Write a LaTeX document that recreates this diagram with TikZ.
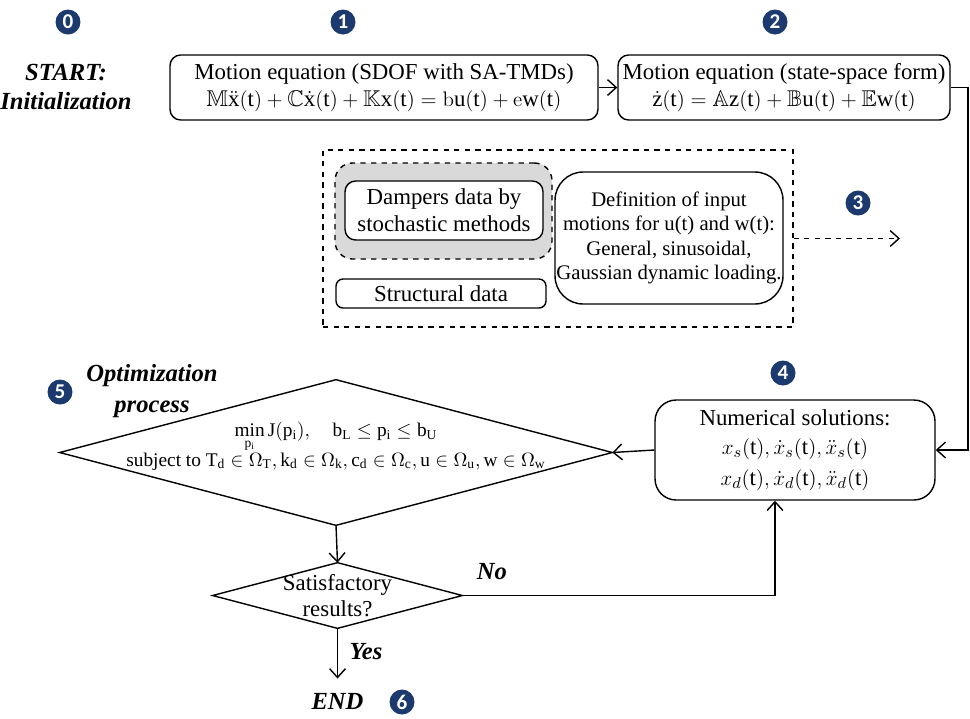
\documentclass[tikz,border=0pt]{standalone}
\usepackage{amsmath,amssymb}
\usepackage{fontspec}
\setmainfont{Liberation Serif}
\newfontfamily\badgefont{Carlito}
\DeclareMathAlphabet{\mathbbl}{U}{bbold}{m}{n}
\usetikzlibrary{shapes.geometric,arrows.meta,calc}
\definecolor{badgeblue}{RGB}{28,58,110}
\definecolor{lightgray}{RGB}{217,217,217}
\tikzset{
  box/.style={draw, line width=0.8pt, rounded corners=6pt, align=center, inner sep=0pt,
    font=\rmfamily\fontsize{13}{15.5}\selectfont},
  badge/.style={circle, fill=badgeblue, text=white, minimum size=0.5cm, inner sep=0pt,
    font=\badgefont\bfseries\fontsize{12}{12}\selectfont},
  decision/.style={inner sep=0pt, align=center, font=\rmfamily\fontsize{12}{15}\selectfont},
  flow/.style={draw, line width=0.8pt, -{Straight Barb[length=5pt,width=9pt]}},
  lbl/.style={font=\rmfamily\fontsize{14}{16}\selectfont\bfseries\itshape, align=center, inner sep=0pt}
}
\begin{document}
\begin{tikzpicture}[x=0.02cm,y=-0.02cm]
\useasboundingbox (0,0) rectangle (970,718);

% badges
\node[badge] (n0) at (68,22) {0};
\node[badge] (n1) at (343,22) {1};
\node[badge] (n2) at (775,22) {2};
\node[badge] (n3) at (858,203) {3};
\node[badge] (n4) at (783,373) {4};
\node[badge] (n5) at (60,392) {5};
\node[badge] (n6) at (402,702) {6};

% start
\node[lbl] (start) at (66,87) {START:\\[1pt]Initialization};

% box 1 and 2
\node[box, minimum width=8.56cm, minimum height=1.3cm] (b1) at (384,87.5)
 {Motion equation (SDOF with SA-TMDs)\\
  $\mathbb{M}\ddot{\mathrm{x}}(\mathrm{t})+\mathbb{C}\dot{\mathrm{x}}(\mathrm{t})+\mathbb{K}\mathrm{x}(\mathrm{t})=\mathbbl{b}\mathrm{u}(\mathrm{t})+\mathbbl{e}\mathrm{w}(\mathrm{t})$};
\node[box, minimum width=6.64cm, minimum height=1.3cm] (b2) at (784,87.5)
 {Motion equation (state-space form)\\
  $\dot{\mathrm{z}}(\mathrm{t})=\mathbb{A}\mathrm{z}(\mathrm{t})+\mathbb{B}\mathrm{u}(\mathrm{t})+\mathbb{E}\mathrm{w}(\mathrm{t})$};
\draw[flow] (b1.east) -- (b2.west);

% block 3
\node[draw, dashed, line width=0.8pt, minimum width=9.4cm, minimum height=3.54cm, inner sep=0pt] (g3) at (558,238.5) {};
\node[draw, dashed, line width=0.8pt, fill=lightgray, rounded corners=10pt, minimum width=4.34cm, minimum height=1.92cm, inner sep=0pt] (gray) at (443.5,211) {};
\node[box, fill=white, minimum width=3.96cm, minimum height=1.18cm] (damp) at (444,210.5)
 {Dampers data by\\stochastic methods};
\node[box, rounded corners=4pt, minimum width=4.2cm, minimum height=0.58cm] (struct) at (441,293.5)
 {Structural data};
\node[box, rounded corners=16pt, minimum width=4.56cm, minimum height=2.64cm,
  font=\rmfamily\fontsize{11.8}{13.8}\selectfont] (def) at (669,238)
 {Definition of input\\motions for u(t) and w(t):\\General, sinusoidal,\\Gaussian dynamic loading.};
\coordinate (d3end) at (900,238.5);
\draw[flow, dashed] (g3.east) -- (d3end);

% box 4
\node[box, rounded corners=12pt, minimum width=5.6cm, minimum height=2.0cm] (b4) at (795,450)
 {Numerical solutions:\\[1pt]
  $x_s(\mathrm{t}),\dot{x}_s(\mathrm{t}),\ddot{x}_s(\mathrm{t})$\\[2pt]
  $x_d(\mathrm{t}),\dot{x}_d(\mathrm{t}),\ddot{x}_d(\mathrm{t})$};
\coordinate (c1) at (968,87.5);
\coordinate (c2) at (968,450);
\draw[flow] (b2.east) -- (c1) -- (c2) -- (b4.east);

% optimisation diamond
\node[lbl] (opt) at (152,391) {Optimization\\[2pt]process};
\node[inner sep=0pt, minimum width=11.04cm, minimum height=2.9cm] (d5) at (336,452.5) {};
\draw[line width=0.8pt] (d5.west) -- (d5.north) -- (d5.east) -- (d5.south) -- cycle;
\node[decision, font=\rmfamily\fontsize{11}{13.5}\selectfont] (d5t) at (336,446)
 {$\min\limits_{\mathrm{p_i}}\mathrm{J(p_i)},\quad \mathrm{b_L}\le\mathrm{p_i}\le\mathrm{b_U}$\\[-1pt]
  subject to $\mathrm{T_d}\in\Omega_{\mathrm{T}},\mathrm{k_d}\in\Omega_{\mathrm{k}},\mathrm{c_d}\in\Omega_{\mathrm{c}},\mathrm{u}\in\Omega_{\mathrm{u}},\mathrm{w}\in\Omega_{\mathrm{w}}$};
\draw[flow] (b4.west) -- (d5.east);

% satisfactory diamond
\node[decision, minimum width=4.98cm, minimum height=1.3cm, font=\rmfamily\fontsize{13}{15}\selectfont] (sat) at (337.5,595.5)
 {Satisfactory\\results?};
\draw[line width=0.8pt] (sat.west) -- (sat.north) -- (sat.east) -- (sat.south) -- cycle;
\draw[flow] (d5.south) -- (sat.north);
\coordinate (n1c) at (775,595.5);
\draw[flow] (sat.east) -- (n1c) -- (n1c |- b4.south);
\node[lbl] (no) at (492,572) {No};

\node[lbl, inner sep=8pt] (endn) at (337.5,701) {END};
\draw[flow] (sat.south) -- (endn.north);
\node[lbl] (yes) at (366,652) {Yes};
\end{tikzpicture}
\end{document}
